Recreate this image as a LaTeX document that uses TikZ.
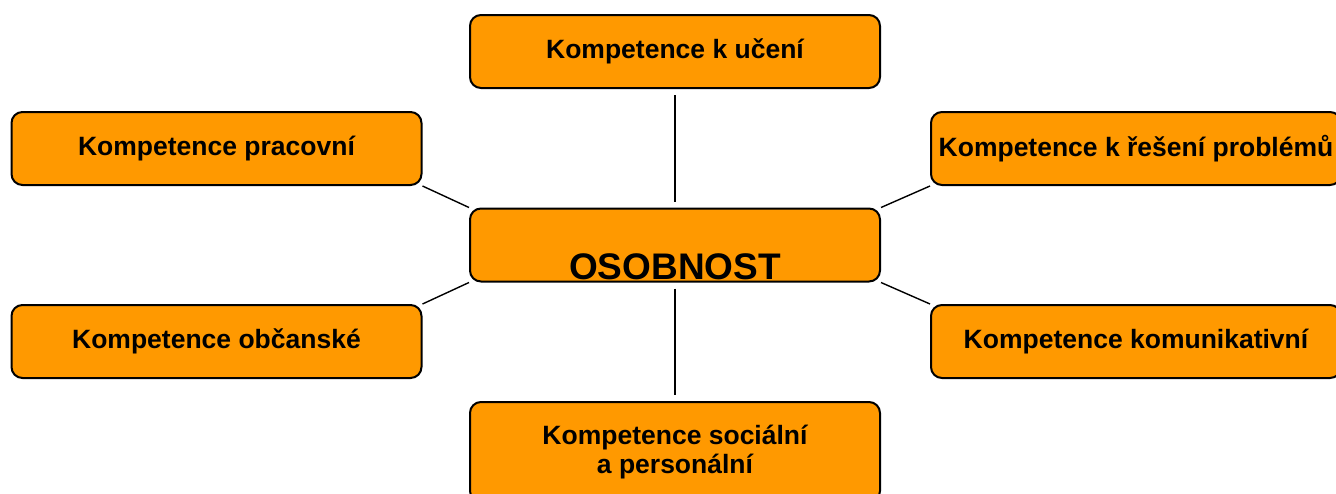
\documentclass[tikz,border=0pt]{standalone}
\usepackage{fontspec}
\setmainfont{Liberation Sans}
\definecolor{orangeC}{RGB}{255,153,0}
\begin{document}
\begin{tikzpicture}[x=1pt,y=-1pt,
  box/.style={draw=black,line width=2pt,fill=orangeC,rounded corners=11pt,
    minimum width=410pt,minimum height=73pt,inner sep=0pt,
    font=\fontsize{26.5}{29}\selectfont\bfseries,align=center},
  conn/.style={line width=1.4pt},
  vconn/.style={conn,shorten <=6pt,shorten >=6pt}]
\useasboundingbox (0,0) rectangle (1336,493);
\clip (0,0) rectangle (1336,493);
\node[box] (top) at (675,51.5) {Kompetence k učení};
\node[box] (lu) at (216.5,148.5) {Kompetence pracovní};
\node[box] (ru) at (1136,148.5) {Kompetence k řešení problémů};
\node[box] (c) at (675,245) {};
\node[font=\fontsize{37}{40}\selectfont\bfseries,anchor=base,inner sep=0pt] (ct) at (675,279) {OSOBNOST};
\node[box] (ll) at (216.5,341.5) {Kompetence občanské};
\node[box] (rl) at (1136,341.5) {Kompetence komunikativní};
\node[box,minimum height=100pt] (b) at (675,452) {Kompetence sociální\\a personální};
\draw[vconn] (top.south) -- (c.north);
\draw[vconn] (c.south) -- (b.north);
\draw[conn] (lu.south east) -- (c.north west);
\draw[conn] (ru.south west) -- (c.north east);
\draw[conn] (ll.north east) -- (c.south west);
\draw[conn] (rl.north west) -- (c.south east);
\end{tikzpicture}
\end{document}
